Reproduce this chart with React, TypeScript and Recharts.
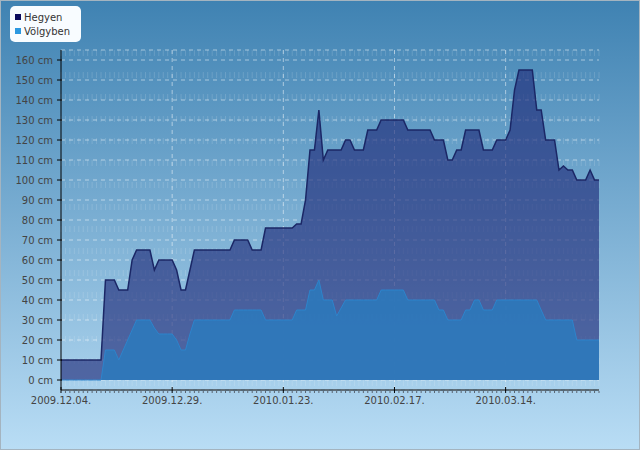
import { AreaChart, Area, XAxis, YAxis, CartesianGrid } from "recharts";

// snow depth in cm, one value per day from 2009.12.04.
const seriesNames = ["Hegyen", "Völgyben"];
const seriesColors = ["#0b0b5c", "#2b98e0"];

const hegyen = [
  10, 10, 10, 10, 10, 10, 10, 10, 10, 10,
  50, 50, 50, 45, 45, 45, 60, 65, 65, 65,
  65, 55, 60, 60, 60, 60, 55, 45, 45, 55,
  65, 65, 65, 65, 65, 65, 65, 65, 65, 70,
  70, 70, 70, 65, 65, 65, 76, 76, 76, 76,
  76, 76, 76, 78, 78, 90, 115, 115, 135, 110,
  115, 115, 115, 115, 120, 120, 115, 115, 115, 125,
  125, 125, 130, 130, 130, 130, 130, 130, 125, 125,
  125, 125, 125, 125, 120, 120, 120, 110, 110, 115,
  115, 125, 125, 125, 125, 115, 115, 115, 120, 120,
  120, 125, 145, 155, 155, 155, 155, 135, 135, 120,
  120, 120, 105, 107, 105, 105, 100, 100, 100, 105,
  100, 100,
];

const volgyben = [
  0, 0, 0, 0, 0, 0, 0, 0, 0, 0,
  15, 15, 15, 10, 15, 20, 25, 30, 30, 30,
  30, 26, 23, 23, 23, 23, 20, 15, 15, 23,
  30, 30, 30, 30, 30, 30, 30, 30, 30, 35,
  35, 35, 35, 35, 35, 35, 30, 30, 30, 30,
  30, 30, 30, 35, 35, 35, 45, 45, 50, 40,
  40, 40, 32, 36, 40, 40, 40, 40, 40, 40,
  40, 40, 45, 45, 45, 45, 45, 45, 40, 40,
  40, 40, 40, 40, 40, 35, 35, 30, 30, 30,
  30, 35, 35, 40, 40, 35, 35, 35, 40, 40,
  40, 40, 40, 40, 40, 40, 40, 40, 35, 30,
  30, 30, 30, 30, 30, 30, 20, 20, 20, 20,
  20, 20,
];

const tickDays = [0, 25, 50, 75, 100];
const tickLabels = ["2009.12.04.", "2009.12.29.", "2010.01.23.", "2010.02.17.", "2010.03.14."];
const yTicks = [0, 10, 20, 30, 40, 50, 60, 70, 80, 90, 100, 110, 120, 130, 140, 150, 160];

const data = hegyen.map((h, i) => ({ day: i, hegyen: h, volgyben: volgyben[i] }));
const allDays = data.map((d) => d.day);

function DayTick(props: any) {
  const { x, y, payload } = props;
  const idx = tickDays.indexOf(payload.value);
  if (idx < 0) {
    return <line x1={x} x2={x} y1={y + 1} y2={y + 3} stroke="#5a6470" />;
  }
  return (
    <g>
      <line x1={x} x2={x} y1={y - 3} y2={y + 3} stroke="#000" />
      <text x={x} y={y + 14} textAnchor="middle" fill="#444" fontSize={10}>
        {tickLabels[idx]}
      </text>
    </g>
  );
}

function CmTick(props: any) {
  const { x, y, payload } = props;
  return (
    <g>
      <line x1={x - 4} x2={x + 1} y1={y} y2={y} stroke="#000" />
      <text x={x - 8} y={y} dy={3.5} textAnchor="end" fill="#444" fontSize={10}>
        {`${payload.value} cm`}
      </text>
    </g>
  );
}

export default function App() {
  return (
    <div
      style={{
        position: "absolute",
        left: 0,
        top: 0,
        width: 640,
        height: 450,
        background: "linear-gradient(to bottom, #3f82b2, #b9ddf5)",
        outline: "1px solid #a4b4c0",
        outlineOffset: -1,
        fontFamily: "DejaVu Sans",
      }}
    >
      <AreaChart
        width={640}
        height={450}
        data={data}
        margin={{ top: 50, right: 41, bottom: 0, left: 0 }}
      >
        <CartesianGrid
          horizontal={false}
          verticalValues={allDays}
          stroke="#ffffff"
          strokeOpacity={0.14}
          strokeDasharray="6 16"
        />
        <CartesianGrid
          verticalValues={tickDays.slice(1)}
          stroke="#ffffff"
          strokeOpacity={0.5}
          strokeDasharray="4 4"
        />
        <XAxis
          dataKey="day"
          type="number"
          domain={["dataMin", "dataMax"]}
          ticks={allDays}
          interval={0}
          height={60}
          tickSize={0}
          tickMargin={0}
          tick={<DayTick />}
          tickLine={false}
          axisLine={{ stroke: "#000" }}
        />
        <YAxis
          type="number"
          domain={[-5, 165]}
          ticks={yTicks}
          interval={0}
          width={61}
          tickSize={0}
          tickMargin={0}
          tick={<CmTick />}
          tickLine={false}
          axisLine={{ stroke: "#000" }}
        />
        <Area
          type="linear"
          dataKey="hegyen"
          name={seriesNames[0]}
          fill="#1f2b78"
          fillOpacity={0.64}
          stroke="#1b2766"
          strokeWidth={1.5}
          dot={false}
          activeDot={false}
          isAnimationActive={false}
        />
        <Area
          type="linear"
          dataKey="volgyben"
          name={seriesNames[1]}
          fill="#2e78bb"
          fillOpacity={0.92}
          stroke="#2d84cc"
          strokeWidth={1}
          dot={false}
          activeDot={false}
          isAnimationActive={false}
        />
      </AreaChart>
      <div
        style={{
          position: "absolute",
          left: 10,
          top: 6,
          width: 71,
          height: 36,
          background: "#f8fcff",
          borderRadius: 5,
          paddingTop: 4,
          boxSizing: "border-box",
          fontSize: 10,
          color: "#333",
        }}
      >
        {seriesNames.map((name, i) => (
          <div key={name} style={{ display: "flex", alignItems: "center", height: 14 }}>
            <span
              style={{
                display: "inline-block",
                width: 6,
                height: 6,
                marginLeft: 5,
                marginRight: 3,
                background: seriesColors[i],
              }}
            />
            <span>{name}</span>
          </div>
        ))}
      </div>
    </div>
  );
}
